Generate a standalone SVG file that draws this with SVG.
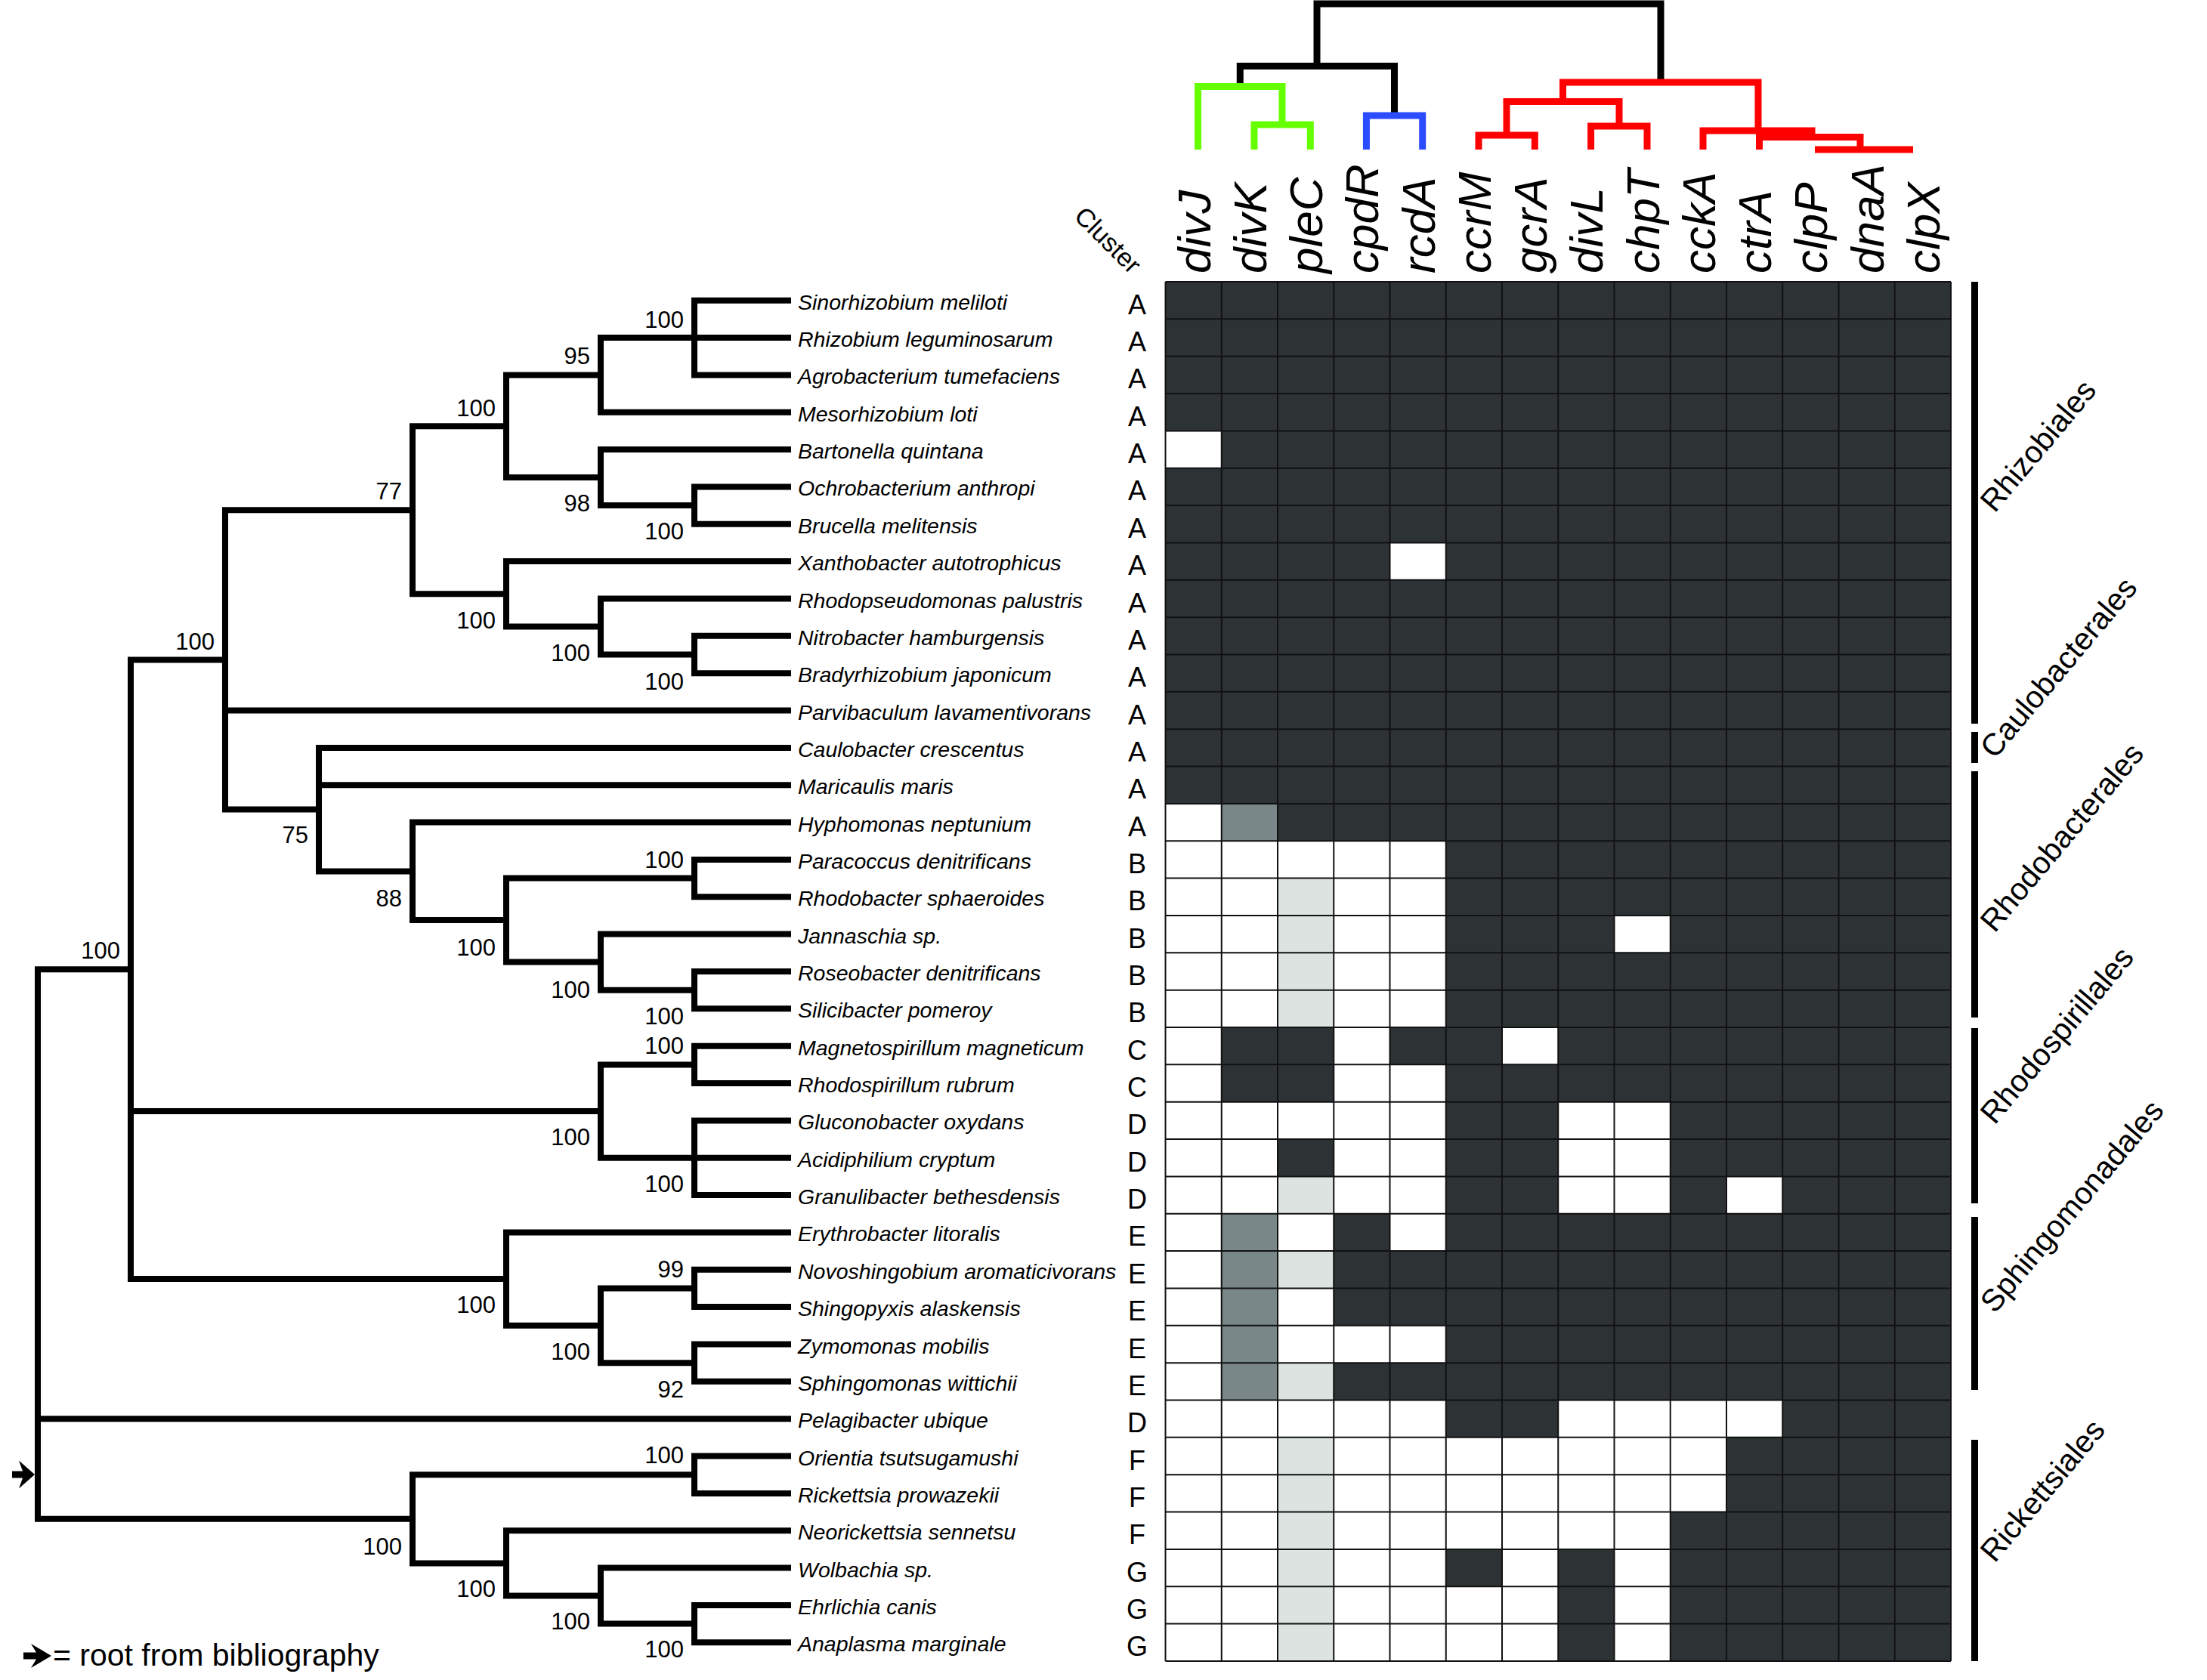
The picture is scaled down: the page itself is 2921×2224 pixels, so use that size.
<svg xmlns="http://www.w3.org/2000/svg" width="2921" height="2224" viewBox="0 0 2921 2224">
<style>
text{font-family:"Liberation Sans",Arial,sans-serif;fill:#000}
.sp{font-size:28.5px;font-style:italic}
.cl{font-size:36px;text-anchor:middle}
.bs{font-size:31px;text-anchor:end}
.gene{font-size:62px;font-style:italic}
.ord{font-size:41px}
.tree{fill:none;stroke:#000;stroke-width:8;stroke-linecap:square;stroke-linejoin:miter}
.den{fill:none;stroke-width:9;stroke-linecap:butt;stroke-linejoin:miter}
.w{fill:#fff}.g{fill:#7a8789}.l{fill:#dce3e0}
</style>
<rect width="2921" height="2224" fill="#fff"/>

<!-- top gene dendrogram -->
<g id="gene-dendrogram">
<path class="den" stroke="#000" d="M1641.25,114.5 V87.5 H1845.5 V153 M1743,87.5 V5 H2198 V109"/>
<path class="den" stroke="#66ff00" d="M1585.5,198 V114.5 H1697 V165 M1660,198 V165 H1734.3 V198"/>
<path class="den" stroke="#2b4bff" d="M1808.4,198 V153 H1882.7 V198"/>
<path class="den" stroke="#ff0000" d="M2068.5,134.5 V109 H2327 V173 M1994,179 V134.5 H2143 V167 M1957,198 V179 H2031.3 V198 M2105.6,198 V167 H2180 V198 M2254,198 V173 H2398 V181.5 M2328.5,198 V181.5 H2462 V198"/>
<path class="den" stroke="#ff0000" stroke-width="10" d="M2402,198 H2532"/>
</g>

<!-- gene labels -->
<g id="genes">
<text class="gene" transform="translate(1601.6,362) rotate(-90)">divJ</text>
<text class="gene" transform="translate(1675.9,362) rotate(-90)">divK</text>
<text class="gene" transform="translate(1750.1,362) rotate(-90)">pleC</text>
<text class="gene" transform="translate(1824.4,362) rotate(-90)">cpdR</text>
<text class="gene" transform="translate(1898.6,362) rotate(-90)">rcdA</text>
<text class="gene" transform="translate(1972.9,362) rotate(-90)">ccrM</text>
<text class="gene" transform="translate(2047.1,362) rotate(-90)">gcrA</text>
<text class="gene" transform="translate(2121.4,362) rotate(-90)">divL</text>
<text class="gene" transform="translate(2195.6,362) rotate(-90)">chpT</text>
<text class="gene" transform="translate(2269.9,362) rotate(-90)">cckA</text>
<text class="gene" transform="translate(2344.1,362) rotate(-90)">ctrA</text>
<text class="gene" transform="translate(2418.4,362) rotate(-90)">clpP</text>
<text class="gene" transform="translate(2492.6,362) rotate(-90)">dnaA</text>
<text class="gene" transform="translate(2566.9,362) rotate(-90)">clpX</text>
</g>
<text id="cluster-header" style="font-size:34px" transform="translate(1420,288) rotate(45)">Cluster</text>

<!-- presence/absence grid -->
<g id="grid" transform="translate(1542.5,373) scale(74.25,49.35)">
<rect x="0" y="0" width="14" height="37" fill="#2d3335"/>
<rect class="w" x="0" y="4" width="1" height="1"/>
<rect class="w" x="4" y="7" width="1" height="1"/>
<rect class="w" x="0" y="14" width="1" height="1"/><rect class="g" x="1" y="14" width="1" height="1"/>
<rect class="w" x="0" y="15" width="5" height="1"/>
<rect class="w" x="0" y="16" width="2" height="4"/><rect class="l" x="2" y="16" width="1" height="4"/><rect class="w" x="3" y="16" width="2" height="4"/>
<rect class="w" x="8" y="17" width="1" height="1"/>
<rect class="w" x="0" y="20" width="1" height="1"/><rect class="w" x="3" y="20" width="1" height="1"/><rect class="w" x="6" y="20" width="1" height="1"/>
<rect class="w" x="0" y="21" width="1" height="1"/><rect class="w" x="3" y="21" width="2" height="1"/>
<rect class="w" x="0" y="22" width="5" height="1"/><rect class="w" x="7" y="22" width="2" height="3"/>
<rect class="w" x="0" y="23" width="2" height="2"/><rect class="w" x="3" y="23" width="2" height="2"/>
<rect class="l" x="2" y="24" width="1" height="1"/><rect class="w" x="10" y="24" width="1" height="1"/>
<rect class="w" x="0" y="25" width="1" height="5"/><rect class="g" x="1" y="25" width="1" height="5"/>
<rect class="w" x="2" y="25" width="1" height="1"/><rect class="w" x="4" y="25" width="1" height="1"/>
<rect class="l" x="2" y="26" width="1" height="1"/>
<rect class="w" x="2" y="27" width="1" height="1"/>
<rect class="w" x="2" y="28" width="3" height="1"/>
<rect class="l" x="2" y="29" width="1" height="1"/>
<rect class="w" x="0" y="30" width="5" height="1"/><rect class="w" x="7" y="30" width="4" height="1"/>
<rect class="w" x="0" y="31" width="2" height="6"/><rect class="l" x="2" y="31" width="1" height="6"/>
<rect class="w" x="3" y="31" width="7" height="2"/>
<rect class="w" x="3" y="33" width="6" height="1"/>
<rect class="w" x="3" y="34" width="2" height="1"/><rect class="w" x="6" y="34" width="1" height="1"/><rect class="w" x="8" y="34" width="1" height="3"/>
<rect class="w" x="3" y="35" width="4" height="2"/>
<path fill="none" stroke="#111" stroke-width="2" vector-effect="non-scaling-stroke" d="M0,0V37M1,0V37M2,0V37M3,0V37M4,0V37M5,0V37M6,0V37M7,0V37M8,0V37M9,0V37M10,0V37M11,0V37M12,0V37M13,0V37M14,0V37M0,0H14M0,1H14M0,2H14M0,3H14M0,4H14M0,5H14M0,6H14M0,7H14M0,8H14M0,9H14M0,10H14M0,11H14M0,12H14M0,13H14M0,14H14M0,15H14M0,16H14M0,17H14M0,18H14M0,19H14M0,20H14M0,21H14M0,22H14M0,23H14M0,24H14M0,25H14M0,26H14M0,27H14M0,28H14M0,29H14M0,30H14M0,31H14M0,32H14M0,33H14M0,34H14M0,35H14M0,36H14M0,37H14"/>
</g>

<!-- phylogenetic tree connectors -->
<g id="tree-connectors">
<path class="tree" d="
M919,397.7H1043 M795,447H1043 M919,496.4H1043 M795,545.7H1043 M795,595.1H1043 M919,644.4H1043 M919,693.8H1043
M670,743.1H1043 M795,792.5H1043 M919,841.8H1043 M919,891.2H1043 M298,940.5H1043 M422,989.9H1043 M422,1039.2H1043
M546,1088.6H1043 M919,1137.9H1043 M919,1187.3H1043 M795,1236.6H1043 M919,1286H1043 M919,1335.3H1043
M919,1384.7H1043 M919,1434H1043 M919,1483.4H1043 M795,1532.7H1043 M919,1582.1H1043
M670,1631.4H1043 M919,1680.8H1043 M919,1730.1H1043 M919,1779.5H1043 M919,1828.8H1043
M50,1878.2H1043 M919,1927.5H1043 M919,1976.9H1043 M670,2026.2H1043 M795,2075.6H1043 M919,2124.9H1043 M919,2174.3H1043
M919,397.7V496.4 M795,447V545.7 M919,644.4V693.8 M795,595.1V669.1 M670,496.4V632.1
M919,841.8V891.2 M795,792.5V866.5 M670,743.1V829.5 M546,564.2V786.3
M919,1137.9V1187.3 M919,1286V1335.3 M795,1236.6V1310.7 M670,1162.6V1273.6 M546,1088.6V1218.1 M422,989.9V1153.4 M298,675.3V1071.6
M919,1384.7V1434 M919,1483.4V1582.1 M795,1409.4V1532.7
M919,1680.8V1730.1 M919,1779.5V1828.8 M795,1705.5V1804.2 M670,1631.4V1754.8
M173,873.4V1693.1
M919,1927.5V1976.9 M919,2124.9V2174.3 M795,2075.6V2149.6 M670,2026.2V2112.6 M546,1952.2V2069.4
M50,1283.3V2010.8
M670,496.4H795 M670,632.1H795 M795,669.1H919 M546,564.2H670 M546,786.3H670 M670,829.5H795 M795,866.5H919 M298,675.3H546
M670,1162.6H919 M670,1273.6H795 M795,1310.7H919 M546,1218.1H670 M422,1153.4H546 M298,1071.6H422 M173,873.4H298
M795,1409.4H919 M173,1471H795 M795,1705.5H919 M795,1804.2H919 M670,1754.8H795 M173,1693.1H670 M50,1283.3H173
M546,1952.2H919 M546,2069.4H670 M670,2112.6H795 M795,2149.6H919 M50,2010.8H546"/>
<polygon points="16,1947.5 30,1947.5 25,1933.5 46,1952 25,1970.5 30,1956.5 16,1956.5" fill="#000"/>
</g>

<!-- bootstrap values -->
<g id="bootstrap">
<text class="bs" x="905" y="434">100</text>
<text class="bs" x="781" y="482">95</text>
<text class="bs" x="656" y="551">100</text>
<text class="bs" x="532" y="661">77</text>
<text class="bs" x="781" y="677">98</text>
<text class="bs" x="905" y="714">100</text>
<text class="bs" x="656" y="832">100</text>
<text class="bs" x="284" y="860">100</text>
<text class="bs" x="781" y="875">100</text>
<text class="bs" x="905" y="913">100</text>
<text class="bs" x="408" y="1116">75</text>
<text class="bs" x="905" y="1149">100</text>
<text class="bs" x="532" y="1200">88</text>
<text class="bs" x="656" y="1265">100</text>
<text class="bs" x="159" y="1269">100</text>
<text class="bs" x="781" y="1321">100</text>
<text class="bs" x="905" y="1356">100</text>
<text class="bs" x="905" y="1395">100</text>
<text class="bs" x="781" y="1516">100</text>
<text class="bs" x="905" y="1578">100</text>
<text class="bs" x="905" y="1691">99</text>
<text class="bs" x="656" y="1738">100</text>
<text class="bs" x="781" y="1800">100</text>
<text class="bs" x="905" y="1850">92</text>
<text class="bs" x="905" y="1937">100</text>
<text class="bs" x="532" y="2058">100</text>
<text class="bs" x="656" y="2114">100</text>
<text class="bs" x="781" y="2157">100</text>
<text class="bs" x="905" y="2194">100</text>
</g>

<!-- taxa -->
<g id="t00"><text class="sp" x="1056" y="409.7">Sinorhizobium meliloti</text><text class="cl" x="1505" y="415.7">A</text></g>
<g id="t01"><text class="sp" x="1056" y="459">Rhizobium leguminosarum</text><text class="cl" x="1505" y="465">A</text></g>
<g id="t02"><text class="sp" x="1056" y="508.4">Agrobacterium tumefaciens</text><text class="cl" x="1505" y="514.4">A</text></g>
<g id="t03"><text class="sp" x="1056" y="557.7">Mesorhizobium loti</text><text class="cl" x="1505" y="563.7">A</text></g>
<g id="t04"><text class="sp" x="1056" y="607.1">Bartonella quintana</text><text class="cl" x="1505" y="613.1">A</text></g>
<g id="t05"><text class="sp" x="1056" y="656.4">Ochrobacterium anthropi</text><text class="cl" x="1505" y="662.4">A</text></g>
<g id="t06"><text class="sp" x="1056" y="705.8">Brucella melitensis</text><text class="cl" x="1505" y="711.8">A</text></g>
<g id="t07"><text class="sp" x="1056" y="755.1">Xanthobacter autotrophicus</text><text class="cl" x="1505" y="761.1">A</text></g>
<g id="t08"><text class="sp" x="1056" y="804.5">Rhodopseudomonas palustris</text><text class="cl" x="1505" y="810.5">A</text></g>
<g id="t09"><text class="sp" x="1056" y="853.8">Nitrobacter hamburgensis</text><text class="cl" x="1505" y="859.8">A</text></g>
<g id="t10"><text class="sp" x="1056" y="903.2">Bradyrhizobium japonicum</text><text class="cl" x="1505" y="909.2">A</text></g>
<g id="t11"><text class="sp" x="1056" y="952.5">Parvibaculum lavamentivorans</text><text class="cl" x="1505" y="958.5">A</text></g>
<g id="t12"><text class="sp" x="1056" y="1001.9">Caulobacter crescentus</text><text class="cl" x="1505" y="1007.9">A</text></g>
<g id="t13"><text class="sp" x="1056" y="1051.2">Maricaulis maris</text><text class="cl" x="1505" y="1057.2">A</text></g>
<g id="t14"><text class="sp" x="1056" y="1100.6">Hyphomonas neptunium</text><text class="cl" x="1505" y="1106.6">A</text></g>
<g id="t15"><text class="sp" x="1056" y="1149.9">Paracoccus denitrificans</text><text class="cl" x="1505" y="1155.9">B</text></g>
<g id="t16"><text class="sp" x="1056" y="1199.3">Rhodobacter sphaeroides</text><text class="cl" x="1505" y="1205.3">B</text></g>
<g id="t17"><text class="sp" x="1056" y="1248.6">Jannaschia sp.</text><text class="cl" x="1505" y="1254.6">B</text></g>
<g id="t18"><text class="sp" x="1056" y="1298">Roseobacter denitrificans</text><text class="cl" x="1505" y="1304">B</text></g>
<g id="t19"><text class="sp" x="1056" y="1347.3">Silicibacter pomeroy</text><text class="cl" x="1505" y="1353.3">B</text></g>
<g id="t20"><text class="sp" x="1056" y="1396.7">Magnetospirillum magneticum</text><text class="cl" x="1505" y="1402.7">C</text></g>
<g id="t21"><text class="sp" x="1056" y="1446">Rhodospirillum rubrum</text><text class="cl" x="1505" y="1452">C</text></g>
<g id="t22"><text class="sp" x="1056" y="1495.4">Gluconobacter oxydans</text><text class="cl" x="1505" y="1501.4">D</text></g>
<g id="t23"><text class="sp" x="1056" y="1544.7">Acidiphilium cryptum</text><text class="cl" x="1505" y="1550.7">D</text></g>
<g id="t24"><text class="sp" x="1056" y="1594.1">Granulibacter bethesdensis</text><text class="cl" x="1505" y="1600.1">D</text></g>
<g id="t25"><text class="sp" x="1056" y="1643.4">Erythrobacter litoralis</text><text class="cl" x="1505" y="1649.4">E</text></g>
<g id="t26"><text class="sp" x="1056" y="1692.8">Novoshingobium aromaticivorans</text><text class="cl" x="1505" y="1698.8">E</text></g>
<g id="t27"><text class="sp" x="1056" y="1742.1">Shingopyxis alaskensis</text><text class="cl" x="1505" y="1748.1">E</text></g>
<g id="t28"><text class="sp" x="1056" y="1791.5">Zymomonas mobilis</text><text class="cl" x="1505" y="1797.5">E</text></g>
<g id="t29"><text class="sp" x="1056" y="1840.8">Sphingomonas wittichii</text><text class="cl" x="1505" y="1846.8">E</text></g>
<g id="t30"><text class="sp" x="1056" y="1890.2">Pelagibacter ubique</text><text class="cl" x="1505" y="1896.2">D</text></g>
<g id="t31"><text class="sp" x="1056" y="1939.5">Orientia tsutsugamushi</text><text class="cl" x="1505" y="1945.5">F</text></g>
<g id="t32"><text class="sp" x="1056" y="1988.9">Rickettsia prowazekii</text><text class="cl" x="1505" y="1994.9">F</text></g>
<g id="t33"><text class="sp" x="1056" y="2038.2">Neorickettsia sennetsu</text><text class="cl" x="1505" y="2044.2">F</text></g>
<g id="t34"><text class="sp" x="1056" y="2087.6">Wolbachia sp.</text><text class="cl" x="1505" y="2093.6">G</text></g>
<g id="t35"><text class="sp" x="1056" y="2136.9">Ehrlichia canis</text><text class="cl" x="1505" y="2142.9">G</text></g>
<g id="t36"><text class="sp" x="1056" y="2186.3">Anaplasma marginale</text><text class="cl" x="1505" y="2192.3">G</text></g>

<!-- order brackets -->
<g id="orders">
<g id="o-rhizobiales"><rect x="2609" y="373" width="9" height="585" fill="#000"/><text class="ord" transform="translate(2640,680) rotate(-50)">Rhizobiales</text></g>
<g id="o-caulobacterales"><rect x="2609" y="969" width="9" height="41" fill="#000"/><text class="ord" transform="translate(2640,1006) rotate(-50)">Caulobacterales</text></g>
<g id="o-rhodobacterales"><rect x="2609" y="1021" width="9" height="326" fill="#000"/><text class="ord" transform="translate(2640,1236) rotate(-50)">Rhodobacterales</text></g>
<g id="o-rhodospirillales"><rect x="2609" y="1361" width="9" height="232" fill="#000"/><text class="ord" transform="translate(2640,1490) rotate(-50)">Rhodospirillales</text></g>
<g id="o-sphingomonadales"><rect x="2609" y="1611" width="9" height="229" fill="#000"/><text class="ord" transform="translate(2640,1740) rotate(-50)">Sphingomonadales</text></g>
<g id="o-rickettsiales"><rect x="2609" y="1906" width="9" height="293" fill="#000"/><text class="ord" transform="translate(2640,2070) rotate(-50)">Rickettsiales</text></g>
</g>

<!-- legend -->
<g id="legend">
<polygon points="31,2187.5 48,2187.5 41,2176 68,2192 41,2208 48,2196.5 31,2196.5" fill="#000"/>
<text x="70" y="2205" style="font-size:41px">= root from bibliography</text>
</g>
</svg>
